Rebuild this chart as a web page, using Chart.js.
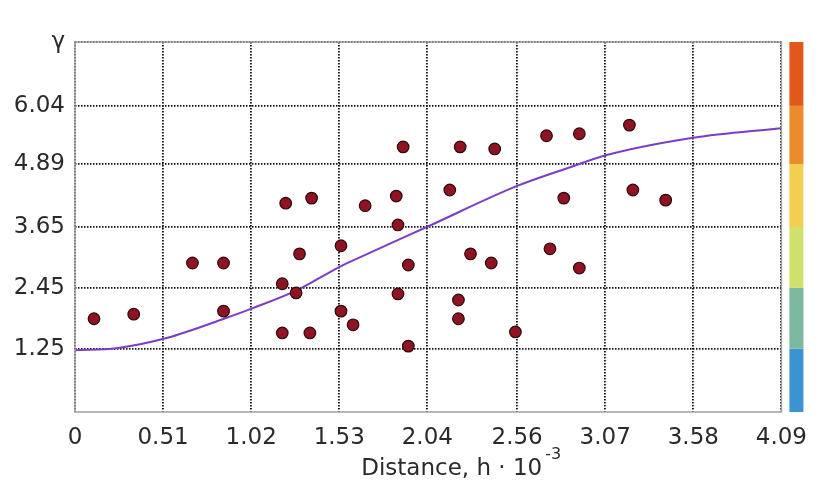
<!DOCTYPE html>
<html>
<head>
<meta charset="utf-8">
<script src="https://cdn.jsdelivr.net/npm/chart.js@4.4.0/dist/chart.umd.min.js"></script>
<style>
  html, body { margin: 0; padding: 0; background: #fff; }
</style>
</head>
<body>
<canvas id="chart" width="819" height="504"></canvas>
<script>
// Axis ticks
const xTickLabels = ['0', '0.51', '1.02', '1.53', '2.04', '2.56', '3.07', '3.58', '4.09'];
const yTickLabels = ['1.25', '2.45', '3.65', '4.89', '6.04'];
const yMax = 7.3;

// Observed semivariance points
const pointX = [0.11, 0.34, 0.68, 0.86, 0.86, 1.22, 1.37, 1.30, 1.20, 1.28, 1.54, 1.54, 1.61, 1.20, 1.36,
  1.90, 2.23, 2.43, 2.73, 2.92, 3.21, 1.68, 1.86, 2.17, 2.83, 3.23, 3.42, 1.87, 1.93, 2.29, 2.41, 2.75,
  2.92, 1.87, 2.22, 2.22, 2.55, 1.93];
const pointY = [1.84, 1.93, 2.94, 2.94, 1.99, 4.12, 4.22, 3.12, 2.53, 2.35, 3.28, 1.99, 1.72, 1.56, 1.56,
  5.23, 5.23, 5.19, 5.45, 5.49, 5.66, 4.07, 4.26, 4.38, 4.22, 4.38, 4.18, 3.69, 2.90, 3.12, 2.94, 3.22,
  2.84, 2.33, 2.21, 1.84, 1.58, 1.30];

// Fitted model curve
const curveX = [0, 0.24, 0.53, 0.87, 1.03, 1.29, 1.53, 1.63, 2.05, 2.56, 2.85, 3.08, 3.58, 4.09];
const curveY = [1.22, 1.26, 1.46, 1.85, 2.05, 2.41, 2.86, 3.02, 3.67, 4.46, 4.81, 5.07, 5.41, 5.60];

// Colour scale bands, bottom to top
const bandColors = ['#3b93d1', '#7cb9a1', '#cfe06c', '#f2cf50', '#ec8b2d', '#e0591b'];

const font = { family: '"DejaVu Sans", sans-serif', size: 23 };
const textColor = '#2a2a2a';

const extras = {
  id: 'extras',
  afterDraw(chart) {
    const { ctx, chartArea: a, scales: { y } } = chart;
    ctx.save();
    // plot frame
    ctx.strokeStyle = '#a0a0a0';
    ctx.lineWidth = 1.5;
    ctx.strokeRect(a.left, a.top, a.right - a.left, a.bottom - a.top);

    // colour bar
    const edges = [0, ...yTickLabels.map(Number), yMax];
    bandColors.forEach((c, i) => {
      const y0 = y.getPixelForValue(edges[i]);
      const y1 = y.getPixelForValue(edges[i + 1]);
      ctx.fillStyle = c;
      ctx.fillRect(a.right + 8, y1, 14, y0 - y1);
    });

    // x axis title with exponent
    const main = 'Distance, h \u00b7 10';
    const sup = '-3';
    ctx.fillStyle = textColor;
    ctx.textBaseline = 'alphabetic';
    ctx.font = font.size + 'px ' + font.family;
    const w1 = ctx.measureText(main).width;
    ctx.font = '16px ' + font.family;
    const w2 = ctx.measureText(sup).width;
    const cx = (a.left + a.right) / 2 + 33;
    const x0 = cx - (w1 + w2 + 3) / 2;
    const base = a.bottom + 63;
    ctx.font = font.size + 'px ' + font.family;
    ctx.textAlign = 'left';
    ctx.fillText(main, x0, base);
    ctx.font = '16px ' + font.family;
    ctx.fillText(sup, x0 + w1 + 3, base - 16);
    ctx.restore();
  }
};

new Chart(document.getElementById('chart'), {
  type: 'scatter',
  data: {
    datasets: [
      {
        data: pointX.map((x, i) => ({ x, y: pointY[i] })),
        backgroundColor: '#8e1424',
        borderColor: '#2e080c',
        borderWidth: 1.2,
        pointRadius: 5.8
      },
      {
        type: 'line',
        data: curveX.map((x, i) => ({ x, y: curveY[i] })),
        borderColor: '#7a3ec6',
        borderWidth: 2,
        pointRadius: 0,
        fill: false,
        cubicInterpolationMode: 'monotone'
      }
    ]
  },
  options: {
    responsive: false,
    devicePixelRatio: 1,
    animation: false,
    layout: { padding: { top: 42, right: 29, left: 0, bottom: 0 } },
    plugins: { legend: { display: false }, tooltip: { enabled: false } },
    scales: {
      x: {
        type: 'linear',
        min: 0,
        max: 4.09,
        afterBuildTicks: s => { s.ticks = xTickLabels.map(v => ({ value: Number(v) })); },
        afterFit: s => { s.height = 92; },
        ticks: {
          callback: (v, i) => xTickLabels[i],
          font, color: textColor, padding: 12, maxRotation: 0, autoSkip: false
        },
        grid: { color: '#111', lineWidth: 1.8, drawTicks: false },
        border: { display: false, dash: [1.5, 1.5] }
      },
      y: {
        min: 0,
        max: yMax,
        afterBuildTicks: s => { s.ticks = [...yTickLabels.map(Number), yMax].map(v => ({ value: v })); },
        afterFit: s => { s.width = 75; },
        ticks: {
          callback: (v, i) => i < yTickLabels.length ? yTickLabels[i] : '\u03b3',
          font, color: textColor, padding: 10, autoSkip: false
        },
        grid: { color: '#111', lineWidth: 1.8, drawTicks: false },
        border: { display: false, dash: [1.5, 1.5] }
      }
    }
  },
  plugins: [extras]
});
</script>
</body>
</html>
